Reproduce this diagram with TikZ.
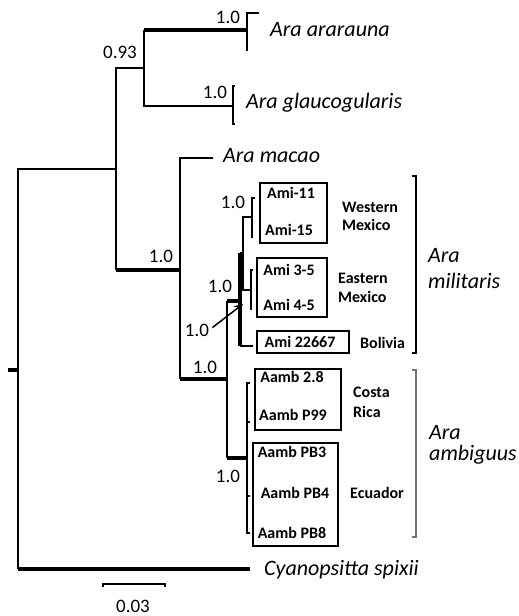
\documentclass[tikz,border=0pt]{standalone}
\usepackage{fontspec}
\setmainfont{Carlito}
\usetikzlibrary{arrows.meta}
\begin{document}
\begin{tikzpicture}[x=1pt,y=-1pt,
  br/.style={line width=1.7pt, line cap=butt, line join=miter},
  thk/.style={line width=4pt, line cap=butt},
  box/.style={draw, line width=1.3pt, inner sep=0pt},
  num/.style={font=\fontsize{19}{20}\selectfont, inner sep=0pt},
  tip/.style={font=\fontsize{16}{18}\selectfont\bfseries, inner sep=0pt},
  reg/.style={font=\fontsize{16}{18}\selectfont\bfseries, inner sep=0pt, anchor=west},
  sp/.style={font=\fontsize{22}{24}\selectfont\itshape, inner sep=0pt, anchor=base west}]
\useasboundingbox (0,0) rectangle (519,616);
% tips and internal nodes
\coordinate (tArar) at (247,30);
\coordinate (tGlau) at (233,106);
\coordinate (tMac) at (213,158);
\coordinate (tCya) at (250,569);
\coordinate (tBol) at (253,346);
\coordinate (R) at (18,370);
\coordinate (Rt) at (8,370);
\coordinate (A) at (116,169);
\coordinate (B) at (144,68);
\coordinate (C) at (180,270);
\coordinate (D) at (227,379);
\coordinate (E) at (240,301);
\coordinate (F) at (243,253);
\coordinate (G) at (252,217);
\coordinate (H) at (251,290);
\coordinate (I) at (247,458);
% root
\draw[thk] (Rt) -- (R);
\draw[br] (A) -- (A-|R) -- (R|-tCya);
\draw[thk] (R|-tCya) -- (tCya);
% A
\draw[br] (B) -- (A|-B) -- (A|-C);
\draw[thk] (A|-C) -- (C);
% B
\draw[br] (B|-tArar) -- (B|-tGlau) -- (tGlau);
\draw[thk] (B|-tArar) -- (tArar);
\draw[br] (tArar) ++(12,-17) -- ++(-12,0) -- ++(0,38);
\draw[br] (tGlau) ++(2,-20) -- ++(-2,0) -- ++(0,38) -- ++(2,0);
% C
\draw[br] (tMac) -- (C|-tMac) -- (C|-D);
\draw[thk] (C|-D) -- (D);
% D
\draw[br] (D|-E) -- (D|-I);
\draw[thk] (D|-E) -- (E);
\draw[thk] (D|-I) -- (I);
% E
\draw[thk] (E|-F) -- (E|-tBol);
\draw[br] (E|-tBol) -- (tBol);
\draw[br] (E|-F) -- (F);
% F
\draw[br] (G) -- (F|-G) -- (F|-H) -- (H);
% G, H
\draw[br] (G) ++(3,-19) -- ++(-3,0) -- ++(0,40);
\draw[br] (H) ++(2,-20) -- ++(-2,0) -- ++(0,40);
% I
\draw[br] (I) ++(3,-75) -- ++(-3,0) -- ++(0,150) -- ++(3,0);
\draw[br] (I) ++(0,-36) -- ++(3,0);
\draw[br] (I) ++(0,38) -- ++(3,0);
% support labels
\node[num] (l093) at (120,52) {0.93};
\node[num] (l1) at (228,17) {1.0};
\node[num] (l2) at (215,92) {1.0};
\node[num] (l3) at (161,256) {1.0};
\node[num] (l4) at (233,202) {1.0};
\node[num] (l5) at (220,286) {1.0};
\node[num] (l6) at (197,330) {1.0};
\node[num] (l7) at (205,367) {1.0};
\node[num] (l8) at (228,476) {1.0};
\coordinate (arrTip) at (243,304);
\draw[line width=1.5pt, -{Stealth[length=9pt,width=8pt]}, shorten <=4pt] (l6.east) -- (arrTip);
% species names
\node[sp] (nArar) at (270,36) {Ara ararauna};
\node[sp] (nGlau) at (246,108) {Ara glaucogularis};
\node[sp] (nMac) at (223,162) {Ara macao};
\node[sp] (nCya) at (264,575) {Cyanopsitta spixii};
\node[sp] (nMil1) at (428,262) {Ara};
\node[sp] (nMil2) at (428,288) {militaris};
\node[sp] (nAmb1) at (429,439) {Ara};
\node[sp] (nAmb2) at (429,460) {ambiguus};
% boxes
\node[box, minimum width=67pt, minimum height=60pt] (bW) at (293.5,213) {};
\node[box, minimum width=70pt, minimum height=59pt] (bE) at (292,287.5) {};
\node[box, minimum width=92pt, minimum height=22pt] (bB) at (303,342) {};
\node[box, minimum width=86pt, minimum height=61pt] (bC) at (298,399.5) {};
\node[box, minimum width=85pt, minimum height=103pt] (bQ) at (295.5,494.5) {};
% box texts
\node[tip] (s1) at (291,193) {Ami-11};
\node[tip] (s2) at (289,230) {Ami-15};
\node[tip] (s3) at (289,270) {Ami 3-5};
\node[tip] (s4) at (289,305) {Ami 4-5};
\node[tip] (s5) at (300,342) {Ami 22667};
\node[tip] (s6) at (292,377) {Aamb 2.8};
\node[tip] (s7) at (293,415) {Aamb P99};
\node[tip] (s8) at (292,452) {Aamb PB3};
\node[tip] (s9) at (295,493) {Aamb PB4};
\node[tip] (s10) at (292,533) {Aamb PB8};
% region labels
\node[reg] (g1) at (342,207) {Western};
\node[reg] (g2) at (342,225) {Mexico};
\node[reg] (g3) at (338,278) {Eastern};
\node[reg] (g4) at (338,297) {Mexico};
\node[reg] (g5) at (360,343) {Bolivia};
\node[reg] (g6) at (353,392) {Costa};
\node[reg] (g7) at (353,412) {Rica};
\node[reg] (g8) at (350,493) {Ecuador};
% brackets
\draw[br] (412,176) -- (416,176) -- (416,353) -- (412,353);
\draw[br, draw=black!55] (412,370) -- (416,370) -- (416,537) -- (412,537);
% scale bar
\coordinate (sbL) at (103,584);
\coordinate (sbR) at (165,584);
\draw[line width=2.6pt] (sbL) ++(0,3) -- (sbL) -- (sbR) -- ++(0,3);
\node[num] (sbT) at (133,606) {0.03};
\end{tikzpicture}
\end{document}
